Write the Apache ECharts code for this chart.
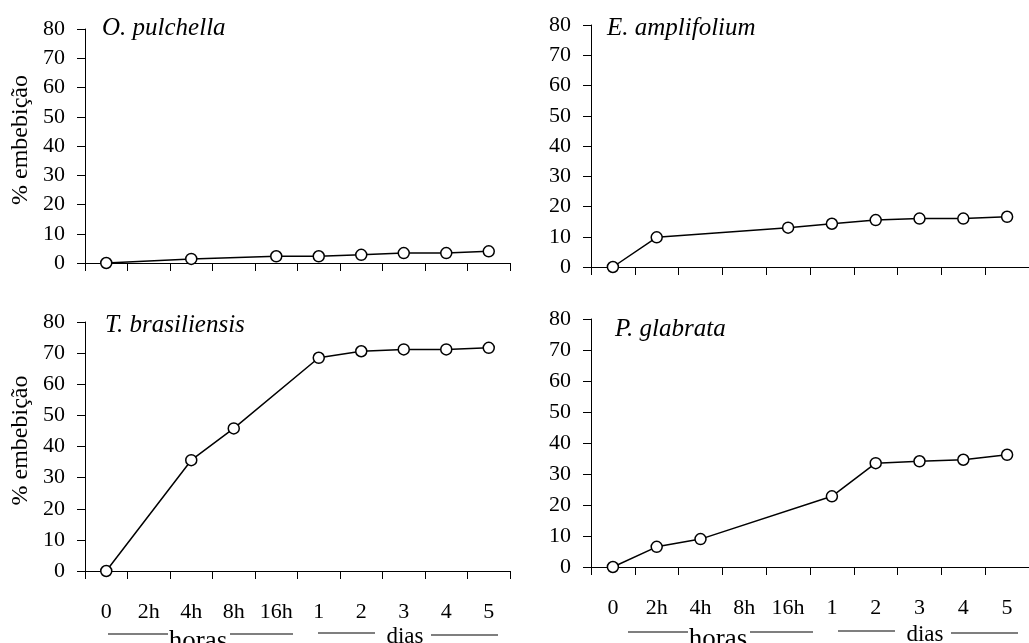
<!DOCTYPE html>
<html>
<head>
<meta charset="utf-8">
<title>% embebição</title>
<script src="https://cdn.jsdelivr.net/npm/echarts@6/dist/echarts.min.js"></script>
<style>
  html, body { margin: 0; padding: 0; background: #fff; }
  #chart { width: 1029px; height: 643px; }
</style>
</head>
<body>
<div id="chart"></div>
<script>
// tempos de embebição (horas e depois dias)
const categories = ['0', '2h', '4h', '8h', '16h', '1', '2', '3', '4', '5']
const yTicks = [0, 10, 20, 30, 40, 50, 60, 70, 80]

const pulchella = [0, null, 1.4, null, 2.3, 2.3, 2.8, 3.4, 3.4, 4.0]
const amplifolium = [0, 9.8, null, null, 13.0, 14.3, 15.5, 16.0, 16.0, 16.6]
const brasiliensis = [0, null, 35.6, 45.8, null, 68.5, 70.6, 71.2, 71.2, 71.7]
const glabrata = [0, 6.5, 9.0, null, null, 22.8, 33.5, 34.1, 34.6, 36.2]

const species = ['O. pulchella', 'E. amplifolium', 'T. brasiliensis', 'P. glabrata']
const seriesData = [pulchella, amplifolium, brasiliensis, glabrata]

const font = "'Liberation Serif', 'Times New Roman', Times, serif"

const panels = [
  { left: 85, top: 29, width: 425, height: 234, titleLeft: 97, titleTop: 11, yName: true, xLabels: false },
  { left: 591, top: 25, width: 447, height: 242, titleLeft: 602, titleTop: 11, yName: false, xLabels: false },
  { left: 85, top: 322, width: 425, height: 249, titleLeft: 100, titleTop: 308, yName: true, xLabels: true },
  { left: 591, top: 319, width: 447, height: 248, titleLeft: 610, titleTop: 312, yName: false, xLabels: true }
]

const chart = echarts.init(document.getElementById('chart'))

const grid = panels.map(p => ({ left: p.left, top: p.top, width: p.width, height: p.height }))

const title = panels.map((p, i) => ({
  text: species[i],
  left: p.titleLeft,
  top: p.titleTop,
  textStyle: { fontFamily: font, fontStyle: 'italic', fontWeight: 'normal', fontSize: 25, color: '#000' }
}))

const xAxis = panels.map((p, i) => ({
  type: 'category',
  gridIndex: i,
  data: categories,
  boundaryGap: true,
  axisLine: { lineStyle: { color: '#000', width: 1 } },
  axisTick: { show: true, length: 8, lineStyle: { color: '#000' } },
  axisLabel: {
    show: p.xLabels,
    interval: 0,
    margin: 30,
    fontFamily: font,
    fontSize: 22,
    color: '#000'
  },
  splitLine: { show: false }
}))

const yAxis = panels.map((p, i) => ({
  type: 'value',
  gridIndex: i,
  min: yTicks[0],
  max: yTicks[yTicks.length - 1],
  interval: 10,
  name: p.yName ? '% embebição' : '',
  nameLocation: 'middle',
  nameGap: 52,
  nameTextStyle: { fontFamily: font, fontSize: 24, color: '#000', padding: [0, 0, 0, 12] },
  axisLine: { show: true, lineStyle: { color: '#000', width: 1 } },
  axisTick: { show: true, length: 8, lineStyle: { color: '#000' } },
  axisLabel: { margin: 20, fontFamily: font, fontSize: 22, color: '#000' },
  splitLine: { show: false }
}))

const series = seriesData.map((d, i) => ({
  name: species[i],
  type: 'line',
  xAxisIndex: i,
  yAxisIndex: i,
  data: d,
  connectNulls: true,
  symbol: 'circle',
  symbolSize: 11,
  itemStyle: { color: '#fff', borderColor: '#000', borderWidth: 1.5 },
  lineStyle: { color: '#000', width: 1.5 },
  emphasis: { disabled: true },
  z: 3
}))

// legenda "horas" / "dias" sob os eixos de baixo
const bracket = (dx, dy) => {
  const line = (x1, x2, y) => ({
    type: 'line',
    shape: { x1: x1 + dx, y1: y + dy, x2: x2 + dx, y2: y + dy },
    style: { stroke: '#000', lineWidth: 1.2 }
  })
  const label = (text, x, y, size) => ({
    type: 'text',
    x: x + dx,
    y: y + dy,
    style: { text: text, fontFamily: font, fontSize: size, fill: '#000', align: 'center', verticalAlign: 'bottom' }
  })
  return [
    line(108, 168, 634),
    label('horas', 198, 655, 27),
    line(230, 293, 634),
    line(318, 375, 633),
    label('dias', 405, 648, 23),
    line(431, 498, 635)
  ]
}

const option = {
  animation: false,
  backgroundColor: '#fff',
  title: title,
  grid: grid,
  xAxis: xAxis,
  yAxis: yAxis,
  series: series,
  graphic: [].concat(bracket(0, 0), bracket(520, -2))
}

chart.setOption(option)
</script>
</body>
</html>
